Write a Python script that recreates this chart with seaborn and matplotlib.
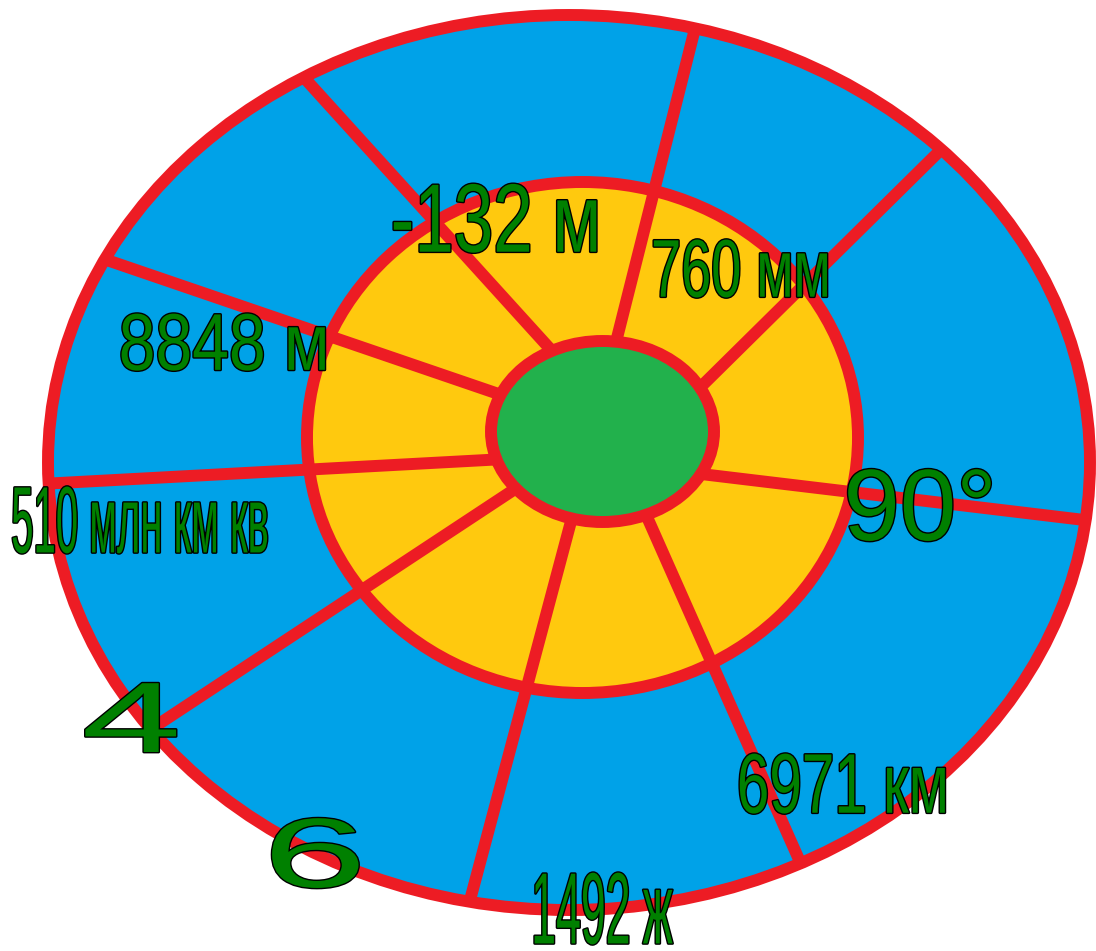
import numpy as np
import matplotlib
matplotlib.use("Agg")
import matplotlib.pyplot as plt
import seaborn as sns
from matplotlib.patches import Ellipse
from matplotlib.transforms import Affine2D
import matplotlib.patheffects as pe

# words written on the disc
labels = ["-132 м", "760 мм", "8848 м", "510 млн км кв", "90°", "4", "6", "6971 км", "1492 ж"]
label_x = [496, 741, 224, 140, 920, 131, 315, 843, 602]
label_y = [252, 297, 370, 553, 540, 752, 887, 813, 944]   # baselines
label_height = [70, 59, 58, 68, 73, 72, 71, 61, 73]      # roughly the digit height in px
label_squeeze = [0.73, 0.66, 0.82, 0.425, 1.0, 1.8, 1.9, 0.69, 0.44]

# the three ellipses: outer (blue), middle (yellow), centre (green)
ring_cx = [569, 582.5, 602.5]
ring_cy = [462.5, 437.5, 431.5]
ring_a = [521, 275.5, 111.5]
ring_b = [447.5, 255.5, 90.5]
ring_colors = ["#00A2E8", "#FFC90E", "#22B14C"]

# spokes: angle where each meets the green ellipse and where it meets the outer one
spoke_inner = [117, 83, 29, -28, -67, -106, -141, 198, 156]
spoke_outer = [120.6, 76, 44.4, -7.4, -63.6, -101, -143.4, 182.7, 153]

red = "#ED1C24"
lw = 8.6


class Stretch(pe.AbstractPathEffect):
    # scale the glyphs around their bottom-middle, then draw outline + fill
    def __init__(self, sx, sy, edge="black", stroke=2.0):
        super().__init__()
        self.sx = sx
        self.sy = sy
        self.edge = edge
        self.stroke = stroke

    def draw_path(self, renderer, gc, tpath, affine, rgbFace=None):
        ext = tpath.get_extents(affine)
        cx = ext.x0 + ext.width / 2
        cy = ext.y0
        aff = affine + Affine2D().translate(-cx, -cy).scale(self.sx, self.sy).translate(cx, cy)
        gc0 = renderer.new_gc()
        gc0.copy_properties(gc)
        gc0.set_linewidth(self.stroke)
        gc0.set_foreground(self.edge)
        renderer.draw_path(gc0, tpath, aff, rgbFace)
        gc0.restore()
        renderer.draw_path(gc, tpath, aff, rgbFace)


sns.set_theme(style="white")
plt.rcParams['font.family'] = ['Liberation Sans', 'DejaVu Sans']

fig = plt.figure(figsize=(10.96, 9.51), dpi=100)
ax = fig.add_axes([0, 0, 1, 1])
ax.set_xlim(0, 1096)
ax.set_ylim(951, 0)
ax.axis('off')

# blue and yellow discs
for i in range(2):
    ax.add_patch(Ellipse((ring_cx[i], ring_cy[i]), 2 * ring_a[i], 2 * ring_b[i],
                         facecolor=ring_colors[i], edgecolor=red, lw=lw, zorder=1 + i))

# spokes from the green centre out to the rim
for t_in, t_out in zip(spoke_inner, spoke_outer):
    ti, to = np.radians(t_in), np.radians(t_out)
    x0 = ring_cx[2] + ring_a[2] * np.cos(ti)
    y0 = ring_cy[2] - ring_b[2] * np.sin(ti)
    x1 = ring_cx[0] + ring_a[0] * np.cos(to)
    y1 = ring_cy[0] - ring_b[0] * np.sin(to)
    ax.plot([x0, x1], [y0, y1], color=red, lw=lw, solid_capstyle='butt', zorder=3)

# green centre
ax.add_patch(Ellipse((ring_cx[2], ring_cy[2]), 2 * ring_a[2], 2 * ring_b[2],
                     facecolor=ring_colors[2], edgecolor=red, lw=lw, zorder=4))

for txt, x, y, h, sq in zip(labels, label_x, label_y, label_height, label_squeeze):
    # narrow words: use a smaller font and pull it up to full height
    size = h * min(sq, 1.0)
    sx = sq * h / size
    sy = h / size
    ax.text(x, y, txt, fontsize=size, color="#008000", ha='center', va='baseline',
            zorder=5, path_effects=[Stretch(sx, sy)])

fig.savefig("out.png", dpi=100)
